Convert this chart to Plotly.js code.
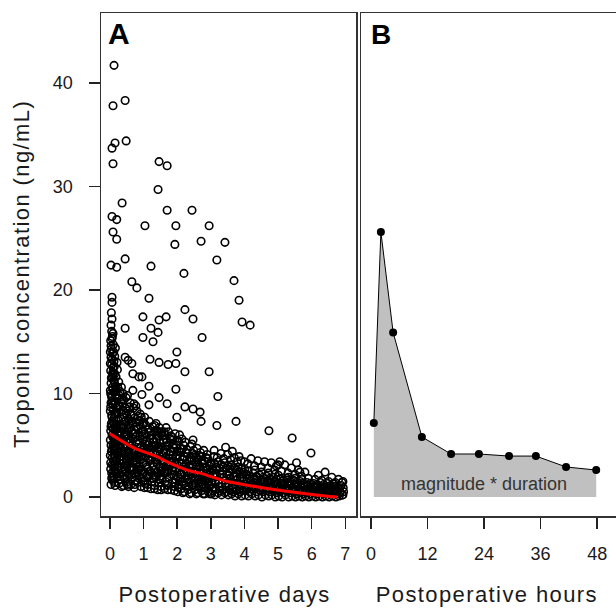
<!DOCTYPE html>
<html><head><meta charset="utf-8">
<script src="https://cdn.plot.ly/plotly-3.0.1.min.js"></script>
<style>body{margin:0;padding:0;background:#fff}#chart{width:616px;height:608px}</style>
</head><body><div id="chart"></div>
<script>
// ---- Panel A: troponin (ng/mL) vs postoperative days, as [day, value] pairs ----
const segDay0 = [[0.03,1.2],[0.08,1.6],[0.12,2.0],[0.05,2.3],[0.15,2.7],[0.10,3.0],[0.02,3.3],[0.18,3.5],[0.07,3.8],[0.13,4.1],
[0.04,4.4],[0.20,4.6],[0.09,4.9],[0.16,5.2],[0.01,5.5],[0.11,5.7],[0.06,6.0],[0.22,6.2],[0.14,6.5],[0.03,6.8],
[0.19,7.0],[0.08,7.3],[0.12,7.6],[0.05,7.9],[0.17,8.1],[0.10,8.4],[0.02,8.7],[0.15,9.0],[0.07,9.3],[0.21,9.5],
[0.04,9.8],[0.12,10.1],[0.09,10.4],[0.16,10.7],[0.03,11.0],[0.11,11.3],[0.06,11.6],[0.14,11.9],[0.02,12.2],[0.09,12.5],
[0.05,12.8],[0.12,13.1],[0.03,13.5],[0.08,13.9],[0.04,14.3],[0.10,14.7],[0.02,15.1],[0.07,15.5],[0.05,16.0],[0.03,16.6],
[0.06,17.2],[0.04,17.8],[0.13,1.4],[0.22,1.9],[0.17,2.4],[0.24,2.9],[0.06,3.1],[0.20,3.7],[0.01,4.0],[0.23,4.3],
[0.14,4.7],[0.03,5.0],[0.19,5.4],[0.08,5.8],[0.25,6.1],[0.02,6.4],[0.17,6.7],[0.11,7.1],[0.23,7.5],[0.06,7.7],
[0.15,8.0],[0.01,8.3],[0.20,8.6],[0.09,8.9],[0.13,9.2],[0.05,9.6],[0.18,9.9],[0.01,10.3],[0.07,10.6],[0.13,11.1],
[0.04,11.5],[0.10,12.0],[0.01,12.9],[0.07,13.3],[0.11,14.0],[0.03,14.6],[0.06,15.3],[0.02,10.0],[0.08,11.8],[0.04,7.1],
[0.16,3.2],[0.11,2.5],[0.21,2.2],[0.18,4.9],[0.24,5.6],[0.09,6.6],[0.12,5.3],[0.06,4.6],[0.02,2.7],[0.14,3.9]];

const segDay1 = [[0.27,1.3],[0.30,2.0],[0.33,2.8],[0.28,3.6],[0.35,4.4],[0.31,5.1],[0.29,5.9],[0.36,6.6],[0.26,7.4],[0.32,8.2],
[0.38,9.0],[0.27,9.8],[0.34,10.6],[0.40,1.1],[0.43,1.8],[0.45,2.5],[0.41,3.3],[0.48,4.0],[0.44,4.8],[0.39,5.5],
[0.47,6.3],[0.42,7.0],[0.50,7.8],[0.46,8.6],[0.41,9.4],[0.53,1.5],[0.55,2.2],[0.52,3.0],[0.58,3.7],[0.54,4.5],
[0.57,5.2],[0.51,6.0],[0.59,6.7],[0.56,7.5],[0.53,8.3],[0.60,9.1],[0.62,1.2],[0.65,1.9],[0.63,2.6],[0.68,3.4],
[0.66,4.1],[0.61,4.9],[0.69,5.6],[0.64,6.4],[0.67,7.1],[0.62,7.9],[0.70,8.6],[0.72,0.9],[0.75,1.6],[0.73,2.3],
[0.78,3.1],[0.76,3.8],[0.71,4.6],[0.79,5.3],[0.74,6.1],[0.77,6.8],[0.72,7.6],[0.80,8.3],[0.82,1.4],[0.85,2.1],
[0.83,2.9],[0.88,3.6],[0.86,4.4],[0.81,5.1],[0.89,5.9],[0.84,6.6],[0.87,7.4],[0.90,8.0],[0.92,1.0],[0.95,1.8],
[0.93,2.5],[0.98,3.3],[0.96,4.0],[0.91,4.8],[0.99,5.5],[0.94,6.3],[0.97,7.0],[0.93,7.7],
[0.29,1.7],[0.37,2.4],[0.31,3.9],[0.43,4.3],[0.35,5.4],[0.47,5.0],[0.33,6.9],[0.49,3.5],[0.38,7.7],[0.52,5.6],
[0.28,8.7],[0.44,6.0],[0.36,9.5],[0.58,2.7],[0.61,3.9],[0.55,6.5],[0.66,5.0],[0.70,2.8],[0.73,4.3],[0.64,7.3],
[0.79,2.0],[0.81,3.4],[0.76,5.8],[0.86,2.6],[0.89,4.7],[0.84,7.8],[0.91,3.9],[0.97,2.2],[0.99,6.4],[0.30,10.2],
[0.26,11.1],[0.32,4.7],[0.46,3.1],[0.57,4.2],[0.68,6.1],[0.74,1.2],[0.40,6.8],[0.50,2.0]];

const segDay2 = [[1.02,0.9],[1.05,1.6],[1.03,2.4],[1.08,3.1],[1.06,3.9],[1.01,4.6],[1.09,5.4],[1.04,6.1],[1.07,6.9],[1.03,7.7],
[1.12,1.2],[1.15,2.0],[1.13,2.7],[1.18,3.5],[1.16,4.2],[1.11,5.0],[1.19,5.7],[1.14,6.5],[1.17,7.3],
[1.22,0.8],[1.25,1.5],[1.23,2.3],[1.28,3.0],[1.26,3.8],[1.21,4.5],[1.29,5.3],[1.24,6.0],[1.27,6.8],
[1.32,1.1],[1.35,1.9],[1.33,2.6],[1.38,3.4],[1.36,4.1],[1.31,4.9],[1.39,5.6],[1.34,6.4],[1.37,7.1],
[1.42,0.7],[1.45,1.4],[1.43,2.2],[1.48,2.9],[1.46,3.7],[1.41,4.4],[1.49,5.2],[1.44,5.9],[1.47,6.7],
[1.52,1.0],[1.55,1.8],[1.53,2.5],[1.58,3.3],[1.56,4.0],[1.51,4.8],[1.59,5.5],[1.54,6.3],
[1.62,0.8],[1.65,1.5],[1.63,2.3],[1.68,3.0],[1.66,3.8],[1.61,4.5],[1.69,5.3],[1.64,6.0],[1.67,6.7],
[1.72,1.1],[1.75,1.9],[1.73,2.6],[1.78,3.4],[1.76,4.1],[1.71,4.9],[1.79,5.6],[1.74,6.3],
[1.82,0.7],[1.85,1.4],[1.83,2.2],[1.88,2.9],[1.86,3.7],[1.81,4.4],[1.89,5.1],[1.84,5.8],
[1.92,1.0],[1.95,1.7],[1.93,2.5],[1.98,3.2],[1.96,4.0],[1.91,4.7],[1.99,5.4],[1.94,6.1],
[1.10,2.9],[1.20,3.6],[1.30,2.1],[1.40,3.2],[1.50,2.0],[1.60,3.5],[1.70,2.4],[1.80,3.1],[1.90,2.1],[1.15,4.7],
[1.27,4.3],[1.38,5.0],[1.46,4.6],[1.57,2.8],[1.66,4.3],[1.77,3.7],[1.87,4.0],[1.97,2.7],[1.06,5.1],[1.33,6.9]];

const segDay3 = [[2.02,0.5],[2.05,1.2],[2.03,1.9],[2.08,2.6],[2.06,3.3],[2.01,4.0],[2.09,4.7],[2.04,5.4],[2.07,6.0],
[2.12,0.8],[2.15,1.5],[2.13,2.2],[2.18,2.9],[2.16,3.6],[2.11,4.3],[2.19,5.0],[2.14,5.6],
[2.22,0.5],[2.25,1.1],[2.23,1.8],[2.28,2.5],[2.26,3.2],[2.21,3.9],[2.29,4.6],[2.24,5.3],
[2.32,0.7],[2.35,1.4],[2.33,2.1],[2.38,2.8],[2.36,3.5],[2.31,4.2],[2.39,4.9],
[2.42,0.4],[2.45,1.1],[2.43,1.8],[2.48,2.4],[2.46,3.1],[2.41,3.8],[2.49,4.5],[2.44,5.1],
[2.52,0.7],[2.55,1.3],[2.53,2.0],[2.58,2.7],[2.56,3.4],[2.51,4.0],[2.59,4.7],
[2.62,0.4],[2.65,1.0],[2.63,1.7],[2.68,2.3],[2.66,3.0],[2.61,3.6],[2.69,4.3],
[2.72,0.6],[2.75,1.2],[2.73,1.9],[2.78,2.6],[2.76,3.2],[2.71,3.9],[2.79,4.5],
[2.82,0.3],[2.85,0.9],[2.83,1.6],[2.88,2.2],[2.86,2.9],[2.81,3.5],[2.89,4.1],
[2.92,0.5],[2.95,1.1],[2.93,1.8],[2.98,2.4],[2.96,3.0],[2.91,3.7],
[2.10,1.7],[2.20,2.3],[2.30,1.7],[2.40,2.2],[2.50,1.6],[2.60,2.0],[2.70,1.5],[2.80,1.9],[2.90,1.3],[2.35,3.0],
[2.57,3.9],[2.77,2.9],[2.97,2.1],[2.15,4.6],[2.47,5.5]];

const segDay4 = [[3.02,0.3],[3.05,0.9],[3.03,1.5],[3.08,2.1],[3.06,2.7],[3.01,3.3],[3.09,3.9],
[3.12,0.2],[3.15,0.8],[3.13,1.4],[3.18,2.0],[3.16,2.6],[3.11,3.2],[3.19,3.8],
[3.22,0.4],[3.25,1.0],[3.23,1.6],[3.28,2.2],[3.26,2.8],[3.21,3.4],
[3.32,0.2],[3.35,0.7],[3.33,1.3],[3.38,1.9],[3.36,2.5],[3.31,3.1],[3.39,3.7],
[3.42,0.4],[3.45,1.0],[3.43,1.6],[3.48,2.2],[3.46,2.8],[3.41,3.3],
[3.52,0.2],[3.55,0.7],[3.53,1.3],[3.58,1.8],[3.56,2.4],[3.51,3.0],[3.59,3.6],
[3.62,0.3],[3.65,0.9],[3.63,1.4],[3.68,2.0],[3.66,2.6],[3.61,3.1],
[3.72,0.1],[3.75,0.6],[3.73,1.2],[3.78,1.7],[3.76,2.3],[3.71,2.8],[3.79,3.4],
[3.82,0.3],[3.85,0.8],[3.83,1.3],[3.88,1.9],[3.86,2.4],[3.81,2.9],
[3.92,0.1],[3.95,0.6],[3.93,1.1],[3.98,1.6],[3.96,2.2],[3.91,2.7],
[3.10,4.5],[3.30,4.2],[3.50,4.1],[3.70,3.8],[3.90,3.5],[3.44,4.8],[3.64,4.4],[3.84,3.9]];

const segDay5 = [[4.02,0.2],[4.05,0.7],[4.03,1.2],[4.08,1.7],[4.06,2.2],[4.01,2.7],
[4.12,0.1],[4.15,0.5],[4.13,1.0],[4.18,1.5],[4.16,2.0],[4.11,2.5],
[4.22,0.3],[4.25,0.8],[4.23,1.3],[4.28,1.8],[4.26,2.3],
[4.32,0.1],[4.35,0.5],[4.33,1.0],[4.38,1.5],[4.36,2.0],[4.31,2.6],
[4.42,0.2],[4.45,0.7],[4.43,1.2],[4.48,1.6],[4.46,2.1],
[4.52,0.0],[4.55,0.5],[4.53,0.9],[4.58,1.4],[4.56,1.9],[4.51,2.4],
[4.62,0.2],[4.65,0.6],[4.63,1.1],[4.68,1.5],[4.66,2.0],
[4.72,0.1],[4.75,0.5],[4.73,0.9],[4.78,1.3],[4.76,1.8],[4.71,2.3],
[4.82,0.2],[4.85,0.6],[4.83,1.0],[4.88,1.5],[4.86,1.9],
[4.92,0.0],[4.95,0.4],[4.93,0.8],[4.98,1.2],[4.96,1.7],[4.91,2.2],
[4.10,3.2],[4.30,3.0],[4.50,2.9],[4.70,2.8],[4.90,2.6],[4.20,3.7],[4.60,3.4],[4.40,3.5],[4.80,3.3],[4.95,3.0]];

const segDay6 = [[5.02,0.1],[5.05,0.5],[5.03,0.9],[5.08,1.3],[5.06,1.7],[5.01,2.1],
[5.12,0.0],[5.15,0.4],[5.13,0.8],[5.18,1.2],[5.16,1.6],
[5.22,0.2],[5.25,0.6],[5.23,1.0],[5.28,1.4],[5.26,1.8],
[5.32,0.0],[5.35,0.4],[5.33,0.7],[5.38,1.1],[5.36,1.5],[5.31,1.9],
[5.42,0.1],[5.45,0.5],[5.43,0.9],[5.48,1.2],[5.46,1.6],
[5.52,0.0],[5.55,0.3],[5.53,0.7],[5.58,1.0],[5.56,1.4],[5.51,1.8],
[5.62,0.1],[5.65,0.4],[5.63,0.8],[5.68,1.1],[5.66,1.5],
[5.72,0.0],[5.75,0.3],[5.73,0.6],[5.78,1.0],[5.76,1.3],[5.71,1.7],
[5.82,0.1],[5.85,0.4],[5.83,0.7],[5.88,1.1],[5.86,1.4],
[5.92,0.0],[5.95,0.3],[5.93,0.6],[5.98,0.9],[5.96,1.3],
[5.10,2.5],[5.30,2.3],[5.50,2.2],[5.70,2.0],[5.90,1.8],[5.20,3.1],[5.40,2.8],[5.60,2.6],[5.80,2.4],[5.05,3.4],[5.55,3.3]];

const segDay7 = [[6.02,0.1],[6.05,0.4],[6.03,0.7],[6.08,1.0],[6.06,1.3],
[6.12,0.0],[6.15,0.3],[6.13,0.6],[6.18,0.9],[6.16,1.2],
[6.22,0.1],[6.25,0.4],[6.23,0.7],[6.28,1.0],[6.26,1.4],
[6.32,0.0],[6.35,0.3],[6.33,0.6],[6.38,0.9],[6.36,1.2],
[6.42,0.1],[6.45,0.4],[6.43,0.7],[6.48,1.0],[6.46,1.3],
[6.52,0.0],[6.55,0.3],[6.53,0.6],[6.58,0.9],[6.56,1.1],
[6.62,0.1],[6.65,0.4],[6.63,0.7],[6.68,1.0],[6.66,1.3],
[6.72,0.0],[6.75,0.3],[6.73,0.6],[6.78,0.9],
[6.82,0.1],[6.85,0.4],[6.83,0.8],[6.88,1.1],
[6.92,0.2],[6.95,0.5],[6.90,1.4],
[6.10,1.7],[6.30,1.6],[6.50,1.5],[6.70,1.4],[6.20,2.1],[6.60,1.9],[6.40,2.4],[6.80,1.7]];

// extra readings inside the dense cloud
const denseEarly = [[0.05,1.8],[0.10,3.5],[0.15,5.9],[0.20,8.2],[0.03,9.1],[0.08,12.0],[0.14,13.6],[0.01,14.0],[0.09,15.8],[0.17,10.3],
[0.22,12.3],[0.19,6.9],[0.24,4.1],[0.07,2.0],[0.12,4.5],[0.25,8.8],[0.27,5.5],[0.31,6.3],[0.34,3.2],[0.37,8.4],
[0.39,2.0],[0.42,5.8],[0.45,7.3],[0.48,9.6],[0.51,1.2],[0.54,3.9],[0.57,7.0],[0.60,5.4],[0.63,8.0],[0.66,2.2],
[0.69,4.5],[0.72,6.5],[0.75,3.5],[0.78,7.2],[0.81,2.4],[0.84,5.5],[0.87,3.0],[0.90,6.9],[0.93,4.3],[0.96,5.9],
[0.99,1.5],[0.35,1.0],[0.55,1.0],[0.15,1.1],[0.42,2.9],[0.62,2.9],[0.82,4.0],[0.47,8.1],[0.29,7.0],[0.33,9.2],
[0.18,11.6],[0.23,10.6],[0.13,12.6],[0.16,14.4],[0.21,13.0],[0.39,10.0],[0.52,9.8],[0.58,8.7],[0.71,9.0],[0.77,8.8]];
const denseMid = [[1.04,1.3],[1.09,2.1],[1.14,3.8],[1.19,2.5],[1.24,4.9],[1.29,1.8],[1.34,3.6],[1.39,2.4],[1.44,4.8],[1.49,1.7],
[1.54,3.6],[1.59,2.4],[1.64,4.9],[1.69,1.2],[1.74,3.0],[1.79,4.4],[1.84,2.6],[1.89,3.4],[1.94,1.4],[1.99,4.4],
[1.07,4.3],[1.17,5.3],[1.27,5.6],[1.37,6.0],[1.47,6.2],[1.57,5.9],[1.67,5.6],[1.77,5.2],[1.87,5.5],[1.97,5.0],
[1.12,0.9],[1.32,0.8],[1.52,0.7],[1.72,0.7],[1.92,0.6],[1.21,6.3],[1.41,6.4],[1.61,6.3],[1.81,5.9],[1.01,7.2],
[2.04,0.9],[2.09,2.2],[2.14,3.2],[2.19,1.3],[2.24,2.7],[2.29,3.6],[2.34,1.0],[2.39,2.5],[2.44,3.5],[2.49,1.2],
[2.54,2.3],[2.59,3.1],[2.64,1.4],[2.69,2.7],[2.74,3.5],[2.79,0.9],[2.84,2.0],[2.89,2.6],[2.94,1.4],[2.99,3.2],
[2.06,4.4],[2.26,4.3],[2.46,4.2],[2.66,4.0],[2.86,3.8],[2.17,0.4],[2.37,0.3],[2.57,0.3],[2.77,0.3],[2.97,0.3]];
const denseLate = [[3.04,1.2],[3.14,2.3],[3.24,1.3],[3.34,2.2],[3.44,1.3],[3.54,2.1],[3.64,1.1],[3.74,2.0],[3.84,1.0],[3.94,1.9],
[3.07,0.6],[3.27,0.6],[3.47,0.5],[3.67,0.5],[3.87,0.5],[3.17,2.9],[3.37,2.9],[3.57,2.7],[3.77,2.6],[3.97,2.4],
[4.04,1.0],[4.24,1.0],[4.44,0.9],[4.64,0.8],[4.84,0.8],[4.14,1.8],[4.34,1.7],[4.54,1.6],[4.74,1.5],[4.94,1.4],
[5.04,0.7],[5.24,0.7],[5.44,0.6],[5.64,0.6],[5.84,0.5],[5.14,1.3],[5.34,1.3],[5.54,1.2],[5.74,1.1],[5.94,1.0],
[6.04,0.5],[6.24,0.5],[6.44,0.5],[6.64,0.5],[6.84,0.5],[6.14,0.9],[6.34,0.8],[6.54,0.8],[6.74,0.7],[6.94,0.9]];

const outliers = [[0.12,41.7],[0.09,37.8],[0.45,38.3],[0.06,33.7],[0.15,34.2],[0.48,34.4],[0.09,32.2],[1.46,32.4],[1.70,32.0],
[1.43,29.7],[0.36,28.4],[1.70,27.7],[2.44,27.7],[0.06,27.1],[0.20,26.8],[1.04,26.2],[1.96,26.2],[2.95,26.2],[0.09,25.6],
[0.20,24.9],[1.93,24.4],[2.71,24.7],[3.42,24.6],[0.45,23.0],[3.18,22.9],[0.03,22.4],[0.20,22.2],[1.22,22.3],[2.20,21.6],
[0.65,20.8],[0.80,20.2],[0.06,19.3],[0.06,18.8],[1.16,19.2],[2.23,18.1],[0.98,17.4],[1.46,17.1],[1.67,17.4],[2.47,17.2],
[0.45,16.3],[1.22,16.3],[1.43,15.9],[0.98,15.4],[1.28,15.0],[2.74,15.4],[3.69,20.9],[3.84,19.0],[3.93,16.9],[4.17,16.6],
[0.45,13.5],[0.54,13.2],[0.65,12.9],[1.19,13.3],[1.46,13.0],[1.73,12.8],[1.96,12.9],[1.99,14.0],[2.23,12.1],[2.95,12.1],
[0.68,11.9],[0.95,11.6],[0.86,11.6],[1.16,10.7],[1.96,10.4],[0.68,10.3],[0.95,9.9],[3.21,9.7],[1.46,9.6],[1.70,9.0],[1.16,8.9],
[2.23,8.7],[2.47,8.5],[2.68,8.2],[1.99,7.7],[2.71,7.3],[3.18,6.9],[3.75,7.3],[4.73,6.4],[5.42,5.7],[5.98,4.25],
[4.00,3.4],[5.00,3.1],[5.65,2.4],[6.93,1.5],[6.93,0.2]];

// smoothed trend (red)
const trendDays = [0.0, 0.68, 1.4, 1.7, 2.4, 2.68, 3.36, 3.57, 4.4, 5.42, 6.4, 6.76];
const trendVals = [6.1, 4.8, 3.9, 3.4, 2.5, 2.3, 1.6, 1.45, 0.97, 0.48, 0.1, 0.0];

// ---- Panel B: one patient's troponin over postoperative hours ----
const hoursB = [0.6, 2.1, 4.7, 10.8, 17.0, 22.9, 29.3, 35.0, 41.4, 47.8];
const tropB  = [7.15, 25.6, 15.9, 5.8, 4.15, 4.15, 3.95, 3.95, 2.9, 2.6];

const xTicksA = [0,1,2,3,4,5,6,7];
const yTicks = [0,10,20,30,40];
const xTicksB = [0,12,24,36,48];

const allA = [].concat(segDay0, segDay1, segDay2, segDay3, segDay4, segDay5, segDay6, segDay7,
                       denseEarly, denseMid, denseLate, outliers);

const W = 616, H = 608;
const FONT = 'Liberation Sans, Arial, sans-serif';
const tickFont = {family: FONT, size: 18, color: '#1a1a1a'};
const xDomA = [101/W, 356/W], xDomB = [361/W, 1];
const yDom = [1 - 516/H, 1 - 13/H];
const yRange = [-1.84, 46.76];

const traces = [
  {x: allA.map(p => p[0]), y: allA.map(p => p[1]), type: 'scatter', mode: 'markers', xaxis: 'x', yaxis: 'y',
   marker: {symbol: 'circle-open', size: 7.5, color: '#000', line: {width: 1.6, color: '#000'}}, hoverinfo: 'skip'},
  {x: trendDays, y: trendVals, type: 'scatter', mode: 'lines', xaxis: 'x', yaxis: 'y',
   line: {color: '#ff0000', width: 3, shape: 'spline'}},
  {x: hoursB, y: tropB, type: 'scatter', mode: 'none', fill: 'tozeroy', fillcolor: '#c0c0c0', xaxis: 'x2', yaxis: 'y2'},
  {x: hoursB, y: tropB, type: 'scatter', mode: 'lines+markers', xaxis: 'x2', yaxis: 'y2',
   line: {color: '#000', width: 1}, marker: {color: '#000', size: 8}}
];

const axCommon = {showgrid: false, zeroline: false, showline: true, linecolor: '#333', linewidth: 1.5,
  ticks: 'outside', ticklen: 11, tickwidth: 1.5, tickcolor: '#222', tickfont: tickFont, ticklabelstandoff: 10};

const layout = {
  width: W, height: H, margin: {l: 0, r: 0, t: 0, b: 0},
  paper_bgcolor: '#fff', plot_bgcolor: '#fff', showlegend: false,
  font: {family: FONT, color: '#1a1a1a'},
  xaxis: Object.assign({}, axCommon, {domain: xDomA, range: [-0.268, 7.32], tickmode: 'array', tickvals: xTicksA, mirror: true, anchor: 'y'}),
  yaxis: Object.assign({}, axCommon, {domain: yDom, range: yRange, tickmode: 'array', tickvals: yTicks, mirror: true, anchor: 'x', ticklabelstandoff: 12}),
  xaxis2: Object.assign({}, axCommon, {domain: xDomB, range: [-2.12, 52.0], tickmode: 'array', tickvals: xTicksB, mirror: true, anchor: 'y2'}),
  yaxis2: Object.assign({}, axCommon, {domain: yDom, range: yRange, showticklabels: false, ticks: '', mirror: false, anchor: 'x2'}),
  annotations: [
    {text: 'A', xref: 'paper', yref: 'paper', x: 106/W, y: 1 - 15/H, xanchor: 'left', yanchor: 'top', showarrow: false,
     font: {family: FONT, size: 30, color: '#000', weight: 'bold'}},
    {text: 'B', xref: 'paper', yref: 'paper', x: 369/W, y: 1 - 17/H, xanchor: 'left', yanchor: 'top', showarrow: false,
     font: {family: FONT, size: 28, color: '#000', weight: 'bold'}},
    {text: 'magnitude * duration', xref: 'x2', yref: 'y2', x: 24, y: 1.3, xanchor: 'center', yanchor: 'middle', showarrow: false,
     font: {family: FONT, size: 18, color: '#333'}},
    {text: 'Postoperative days', xref: 'paper', yref: 'paper', x: 224/W, y: 1 - 594/H, xanchor: 'center', yanchor: 'middle', showarrow: false,
     font: {family: FONT, size: 22, color: '#1a1a1a'}},
    {text: 'Postoperative hours', xref: 'paper', yref: 'paper', x: 487/W, y: 1 - 594/H, xanchor: 'center', yanchor: 'middle', showarrow: false,
     font: {family: FONT, size: 22, color: '#1a1a1a'}},
    {text: 'Troponin concentration (ng/mL)', xref: 'paper', yref: 'paper', x: 22/W, y: 1 - 274/H, xanchor: 'center', yanchor: 'middle', showarrow: false,
     textangle: -90, font: {family: FONT, size: 22, color: '#1a1a1a'}}
  ]
};

Plotly.newPlot('chart', traces, layout, {staticPlot: true, displayModeBar: false}).then(gd => {
  gd.querySelectorAll('.annotation-text').forEach(t => {
    const s = t.textContent;
    if (s.indexOf('Postoperative') === 0 || s.indexOf('Troponin') === 0) t.style.letterSpacing = '1.4px';
  });
});
</script></body></html>
